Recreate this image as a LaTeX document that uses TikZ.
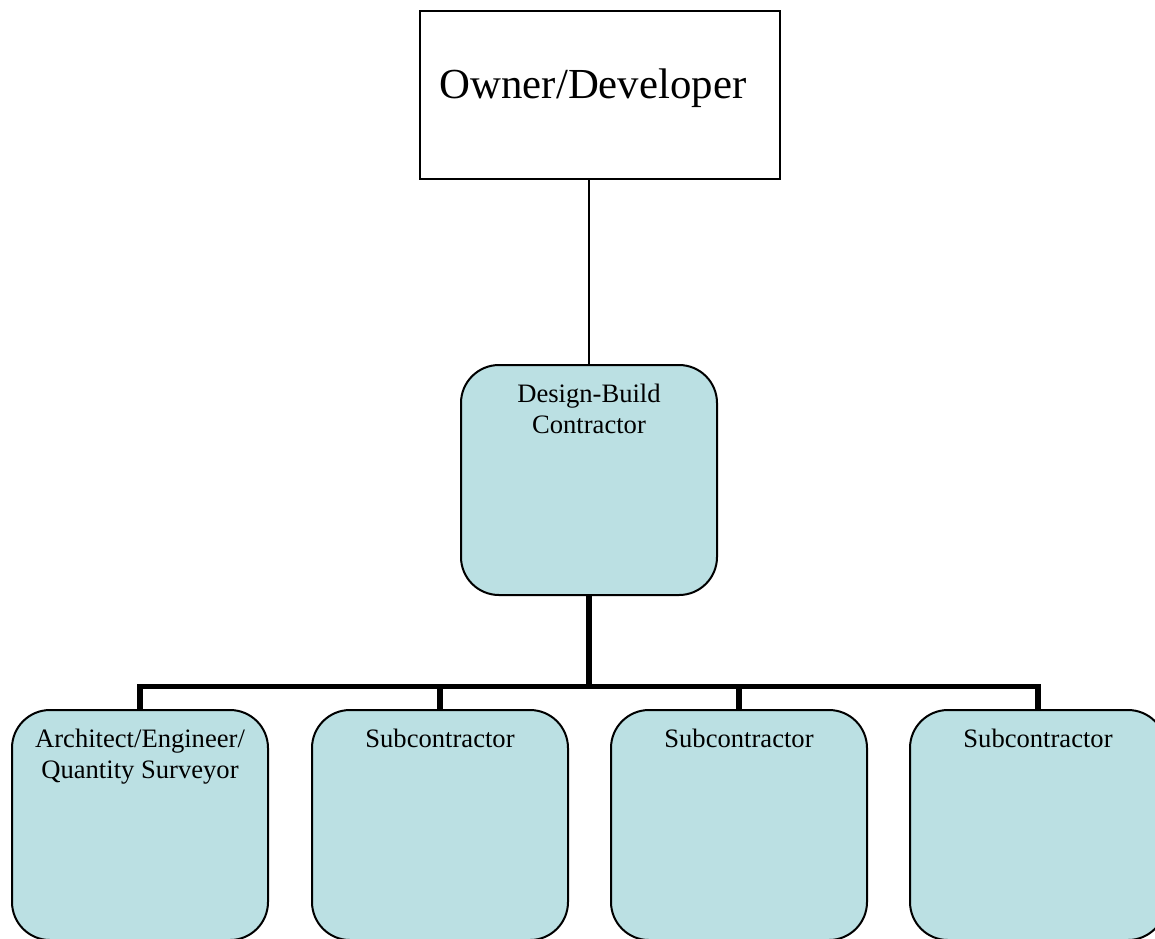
\documentclass[tikz,border=0pt]{standalone}
\usepackage{fontspec}
\setmainfont{Liberation Serif}
\definecolor{boxfill}{RGB}{187,224,227}
\tikzset{
  ownerbox/.style={draw, line width=1pt, minimum width=180pt, minimum height=84pt, inner sep=0pt},
  rolebox/.style={draw, line width=1pt, fill=boxfill, rounded corners=19pt,
                  minimum width=128pt, minimum height=115pt, inner sep=0pt},
  roletext/.style={anchor=north, align=center, inner sep=0pt,
                   font=\fontsize{13.3}{15.5}\selectfont},
  thinlink/.style={line width=1pt},
  buslink/.style={line width=2.7pt, line join=miter}
}
\begin{document}
\begin{tikzpicture}[x=0.5pt, y=-0.5pt]
\useasboundingbox (0,0) rectangle (1155,938);
\clip (0,0) rectangle (1155,938);

% owner
\node[ownerbox] (owner) at (600,95) {};
\node[anchor=base, inner sep=0pt, font=\fontsize{21.4}{25}\selectfont] (ownertxt) at (593,98.5) {Owner/Developer};

% design-build contractor
\node[rolebox] (db) at (589,480) {};
\node[roletext] (dbtxt) at (589,383.5) {Design-Build\\Contractor};

% second tier
\node[rolebox] (ae)  at (140,825) {};
\node[rolebox] (sc1) at (440,825) {};
\node[rolebox] (sc2) at (739,825) {};
\node[rolebox] (sc3) at (1038,825) {};
\node[roletext] (aetxt)  at (140,728.5) {Architect/Engineer/\\Quantity Surveyor};
\node[roletext] (sc1txt) at (440,728.5) {Subcontractor};
\node[roletext] (sc2txt) at (739,728.5) {Subcontractor};
\node[roletext] (sc3txt) at (1038,728.5) {Subcontractor};

% connectors
\draw[thinlink] (db.north) -- (db.north |- owner.south);
\coordinate (bus) at (589,686.5);
\draw[buslink] (db.south) -- (bus);
\draw[buslink] (ae.north) |- (sc3.north |- bus) -- (sc3.north);
\draw[buslink] (sc1.north) -- (sc1.north |- bus);
\draw[buslink] (sc2.north) -- (sc2.north |- bus);
\end{tikzpicture}
\end{document}
